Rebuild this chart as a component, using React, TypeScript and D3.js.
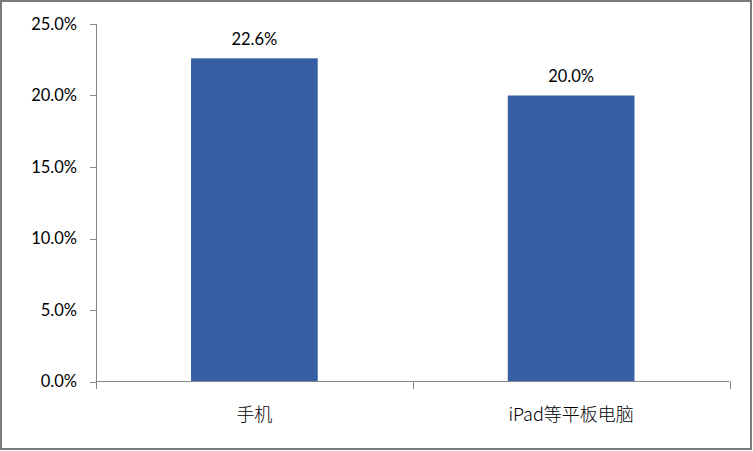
import React from "react";
import * as d3 from "d3";

const categories = ["手机", "iPad等平板电脑"];
const values = [22.6, 20.0];
const yTicks = [0, 5, 10, 15, 20, 25];

const W = 753;
const H = 451;
const m = { left: 96, right: 729.5, top: 24, bottom: 381.5 };

export default function App() {
  const x = d3.scaleBand<string>().domain(categories).range([m.left, m.right]).paddingInner(0).paddingOuter(0);
  const y = d3.scaleLinear().domain([0, 25]).range([m.bottom, m.top]);
  const bw = x.bandwidth() / 2.5;
  const axisColor = "#868686";
  const font = "Lato, 'Noto Sans CJK SC', sans-serif";
  const catTicks = [m.left, ...categories.map((c) => (x(c) as number) + x.bandwidth())];
  return (
    <svg width={W} height={H} style={{ position: "absolute", left: 0, top: 0, background: "#fff" }}>
      <rect x={1} y={1} width={W - 3} height={H - 3} fill="#fff" stroke="#7a7a7a" strokeWidth={2} />
      {/* y axis */}
      <line x1={m.left + 0.5} x2={m.left + 0.5} y1={y(25)} y2={y(0)} stroke={axisColor} />
      {yTicks.map((t) => (
        <g key={t}>
          <line x1={m.left - 6} x2={m.left} y1={Math.round(y(t)) + 0.5} y2={Math.round(y(t)) + 0.5} stroke={axisColor} />
          <text x={77} y={y(t)} dy="0.36em" textAnchor="end" fontFamily={font} fontSize={16.5} fill="#000">
            {d3.format(".1f")(t) + "%"}
          </text>
        </g>
      ))}
      {/* bars */}
      {categories.map((c, i) => {
        const cx = (x(c) as number) + x.bandwidth() / 2;
        return (
          <g key={c}>
            <rect x={cx - bw / 2} y={y(values[i])} width={bw} height={y(0) - y(values[i])} fill="#3660A5" />
            <text x={cx} y={y(values[i]) - 13.5} textAnchor="middle" fontFamily={font} fontSize={16.5} fill="#000">
              {d3.format(".1f")(values[i]) + "%"}
            </text>
            <text x={cx} y={421} textAnchor="middle" fontFamily="'Noto Sans CJK SC', sans-serif" fontSize={18} fontWeight={300} fill="#000">
              {c}
            </text>
          </g>
        );
      })}
      {/* x axis */}
      <line x1={m.left} x2={m.right} y1={381.5} y2={381.5} stroke={axisColor} />
      {catTicks.map((t, i) => (
        <line key={i} x1={Math.round(t) + 0.5} x2={Math.round(t) + 0.5} y1={381.5} y2={389} stroke={axisColor} />
      ))}
    </svg>
  );
}
